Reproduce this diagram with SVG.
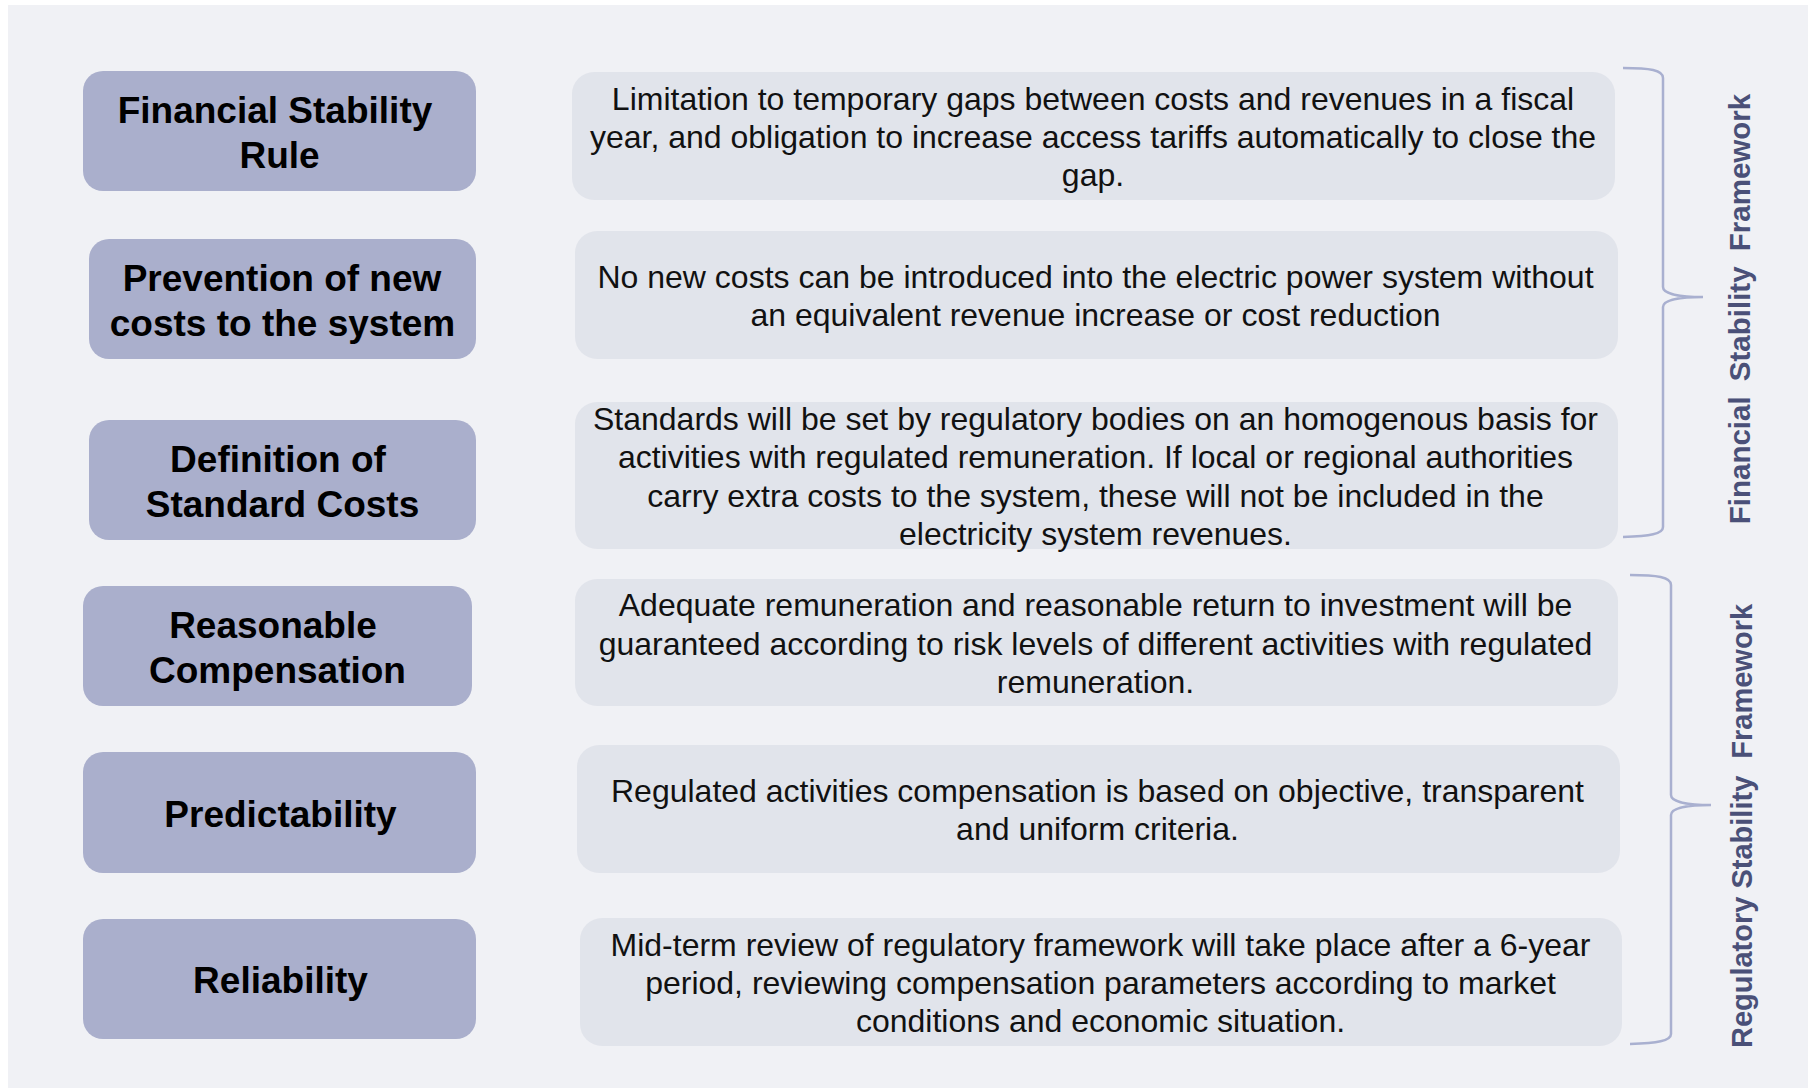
<svg xmlns="http://www.w3.org/2000/svg" width="1808" height="1088" viewBox="0 0 1808 1088">
<style>
.title{font-family:"Liberation Sans",Arial,sans-serif;font-weight:bold;font-size:37px;fill:#000;text-anchor:middle}
.desc{font-family:"Liberation Sans",Arial,sans-serif;font-size:32px;fill:#111;text-anchor:middle}
.lbox{fill:#aaafcc}
.rbox{fill:#e1e4eb}
.brace{fill:none;stroke:#a9b0d0;stroke-width:2.5}
.side{font-family:"Liberation Sans",Arial,sans-serif;font-weight:bold;fill:#4a5078;text-anchor:middle}
</style>
<rect x="0" y="0" width="1808" height="1088" fill="#ffffff"/>
<rect x="8" y="5" width="1800" height="1083" fill="#f0f1f5"/>

<g id="node-financial-stability-rule">
<rect class="lbox" x="83" y="71" width="393" height="120" rx="20"/>
<text class="title"><tspan x="275" y="122.5">Financial Stability</tspan><tspan x="279.5" y="167.5">Rule</tspan></text>
</g>
<g id="node-prevention">
<rect class="lbox" x="89" y="239" width="387" height="120" rx="20"/>
<text class="title"><tspan x="282" y="290.5">Prevention of new</tspan><tspan x="282.5" y="335.5">costs to the system</tspan></text>
</g>
<g id="node-standard-costs">
<rect class="lbox" x="89" y="420" width="387" height="120" rx="20"/>
<text class="title"><tspan x="278" y="471.5">Definition of</tspan><tspan x="282.5" y="516.5">Standard Costs</tspan></text>
</g>
<g id="node-reasonable-compensation">
<rect class="lbox" x="83" y="586" width="389" height="120" rx="20"/>
<text class="title"><tspan x="273" y="637.5">Reasonable</tspan><tspan x="277.5" y="682.5">Compensation</tspan></text>
</g>
<g id="node-predictability">
<rect class="lbox" x="83" y="752" width="393" height="121" rx="20"/>
<text class="title" x="280.5" y="826.5">Predictability</text>
</g>
<g id="node-reliability">
<rect class="lbox" x="83" y="919" width="393" height="120" rx="20"/>
<text class="title" x="280.5" y="993">Reliability</text>
</g>

<g id="desc-financial-stability-rule">
<rect class="rbox" x="572" y="72" width="1043" height="128" rx="22"/>
<text class="desc"><tspan x="1093" y="109.6">Limitation to temporary gaps between costs and revenues in a fiscal</tspan><tspan x="1093" y="148">year, and obligation to increase access tariffs automatically to close the</tspan><tspan x="1093" y="186.4">gap.</tspan></text>
</g>
<g id="desc-prevention">
<rect class="rbox" x="575" y="231" width="1043" height="128" rx="22"/>
<text class="desc"><tspan x="1095.5" y="287.8">No new costs can be introduced into the electric power system without</tspan><tspan x="1095.5" y="326.2">an equivalent revenue increase or cost reduction</tspan></text>
</g>
<g id="desc-standard-costs">
<rect class="rbox" x="575" y="402" width="1043" height="147" rx="22"/>
<text class="desc"><tspan x="1095.5" y="429.9">Standards will be set by regulatory bodies on an homogenous basis for</tspan><tspan x="1095.5" y="468.3">activities with regulated remuneration. If local or regional authorities</tspan><tspan x="1095.5" y="506.7">carry extra costs to the system, these will not be included in the</tspan><tspan x="1095.5" y="545.1">electricity system revenues.</tspan></text>
</g>
<g id="desc-reasonable-compensation">
<rect class="rbox" x="575" y="579" width="1043" height="127" rx="22"/>
<text class="desc"><tspan x="1095.5" y="616.1">Adequate remuneration and reasonable return to investment will be</tspan><tspan x="1095.5" y="654.5">guaranteed according to risk levels of different activities with regulated</tspan><tspan x="1095.5" y="692.9">remuneration.</tspan></text>
</g>
<g id="desc-predictability">
<rect class="rbox" x="577" y="745" width="1043" height="128" rx="22"/>
<text class="desc"><tspan x="1097.5" y="801.8">Regulated activities compensation is based on objective, transparent</tspan><tspan x="1097.5" y="840.2">and uniform criteria.</tspan></text>
</g>
<g id="desc-reliability">
<rect class="rbox" x="580" y="918" width="1042" height="128" rx="22"/>
<text class="desc"><tspan x="1100.5" y="955.6">Mid-term review of regulatory framework will take place after a 6-year</tspan><tspan x="1100.5" y="994">period, reviewing compensation parameters according to market</tspan><tspan x="1100.5" y="1032.4">conditions and economic situation.</tspan></text>
</g>

<g id="connectors">
<path class="brace" d="M1623,68 C1650,68 1663,70 1663,78 L1663,287 C1663,294 1680,297 1703,297 C1680,297 1663,300 1663,307 L1663,527 C1663,534 1650,536 1623,537"/>
<path class="brace" d="M1630,575 C1657,575 1671,577 1671,585 L1671,795 C1671,802 1688,805 1711,805 C1688,805 1671,808 1671,815 L1671,1034 C1671,1041 1657,1043 1630,1044"/>
</g>

<g id="label-financial-framework">
<text class="side" font-size="29.5" word-spacing="7" transform="translate(1750,309) rotate(-90)">Financial Stability Framework</text>
</g>
<g id="label-regulatory-framework">
<text class="side" font-size="29" transform="translate(1752,826) rotate(-90)">Regulatory Stability <tspan dx="9">Framework</tspan></text>
</g>
</svg>
